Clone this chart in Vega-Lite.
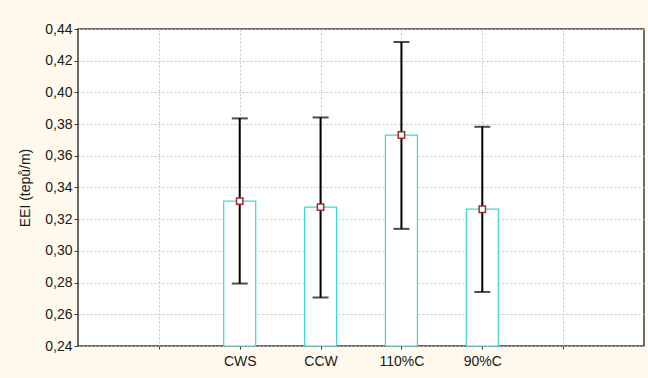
{
  "$schema": "https://vega.github.io/schema/vega-lite/v6.json",
  "width": 566,
  "height": 317,
  "autosize": "none",
  "padding": {"left": 78, "top": 29, "right": 4, "bottom": 32},
  "background": "#fff9ee",
  "config": {
    "font": "Liberation Sans",
    "view": {"stroke": "#3a3a3a", "strokeWidth": 1.5, "fill": "white"},
    "axis": {
      "labelFont": "Liberation Sans",
      "titleFont": "Liberation Sans",
      "labelFontSize": 14,
      "labelColor": "#1a1a1a",
      "titleColor": "#1a1a1a",
      "grid": true,
      "gridColor": "#c4c4c4",
      "gridDash": [2, 2],
      "gridWidth": 1,
      "domain": false,
      "tickColor": "#3a3a3a",
      "labelOverlap": false
    },
    "axisY": {
      "tickCount": 10,
      "tickSize": 4,
      "labelPadding": 2,
      "titleFontSize": 14,
      "titleFontWeight": "normal",
      "titlePadding": 12,
      "labelExpr": "replace(format(datum.value, '.2f'), '.', ',')"
    },
    "axisX": {
      "tickSize": 3,
      "labelPadding": 5,
      "labelAngle": 0,
      "labelExpr": "indexof(datum.label, '_') == 0 ? '' : datum.label"
    }
  },
  "data": {
    "values": [
      {"cond": "CWS", "mean": 0.3314, "lo": 0.2794, "hi": 0.3836},
      {"cond": "CCW", "mean": 0.3276, "lo": 0.2706, "hi": 0.3842},
      {"cond": "110%C", "mean": 0.3731, "lo": 0.3139, "hi": 0.4318},
      {"cond": "90%C", "mean": 0.3263, "lo": 0.2741, "hi": 0.3783}
    ]
  },
  "encoding": {
    "x": {
      "field": "cond",
      "type": "nominal",
      "title": null,
      "scale": {"type": "point", "domain": ["_a", "CWS", "CCW", "110%C", "90%C", "_b"], "padding": 1}
    }
  },
  "layer": [
    {
      "mark": {"type": "bar", "size": 32, "fill": "white", "stroke": "#3fd3d3", "strokeWidth": 1.2},
      "encoding": {
        "y": {
          "field": "mean",
          "type": "quantitative",
          "title": "EEI (tepů/m)",
          "scale": {"domain": [0.24, 0.44], "zero": false, "nice": false}
        },
        "y2": {"datum": 0.24}
      }
    },
    {
      "mark": {"type": "rule", "color": "black", "strokeWidth": 2},
      "encoding": {
        "y": {"field": "lo", "type": "quantitative", "title": "EEI (tepů/m)"},
        "y2": {"field": "hi"}
      }
    },
    {
      "mark": {"type": "tick", "color": "black", "thickness": 2, "size": 16},
      "encoding": {"y": {"field": "lo", "type": "quantitative", "title": "EEI (tepů/m)"}}
    },
    {
      "mark": {"type": "tick", "color": "black", "thickness": 2, "size": 16},
      "encoding": {"y": {"field": "hi", "type": "quantitative", "title": "EEI (tepů/m)"}}
    },
    {
      "mark": {"type": "point", "shape": "square", "filled": true, "fill": "white", "stroke": "#a52a2a", "strokeWidth": 1.5, "size": 40, "opacity": 1},
      "encoding": {"y": {"field": "mean", "type": "quantitative", "title": "EEI (tepů/m)"}}
    }
  ]
}
